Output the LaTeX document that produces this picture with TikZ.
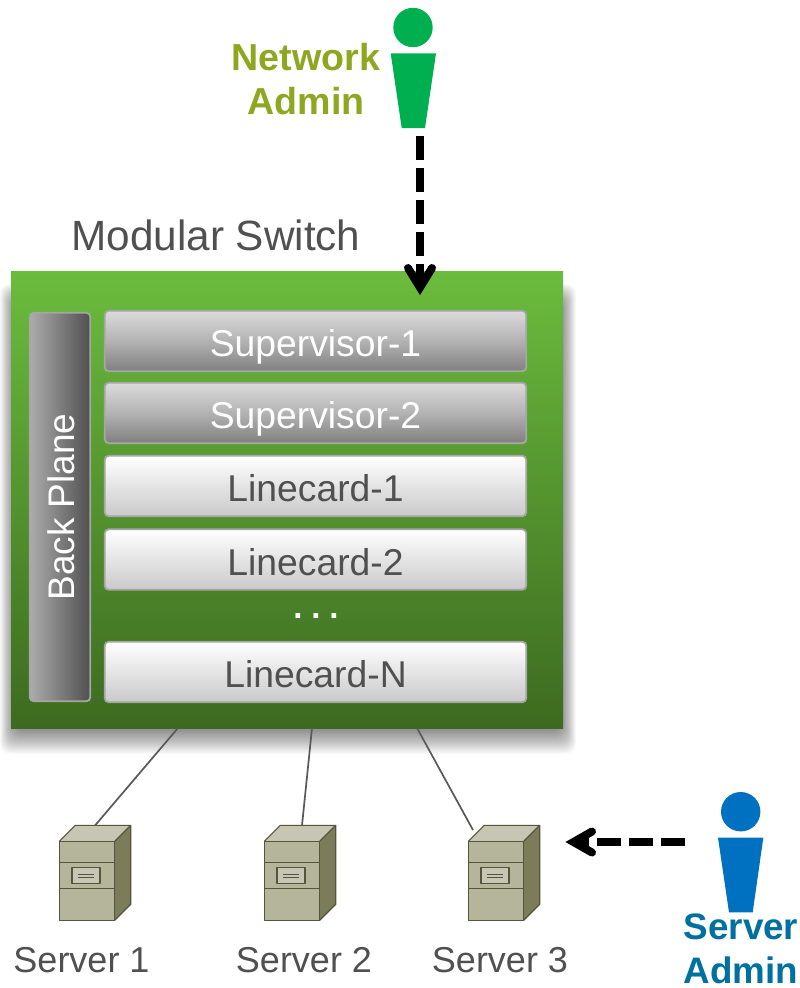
\documentclass[tikz,border=0pt]{standalone}
\usepackage{fontspec}
\setmainfont{Liberation Sans}
\usetikzlibrary{calc}
\definecolor{txtgrey}{HTML}{505050}
\definecolor{cardborder}{HTML}{A6A6A6}
\definecolor{netgreen}{HTML}{00B050}
\definecolor{srvblue}{HTML}{0070C0}
\definecolor{nettext}{HTML}{8EA620}
\definecolor{srvtext}{HTML}{0070A0}
\definecolor{srvfront}{HTML}{B5B59B}
\definecolor{srvtop}{HTML}{C6C6B2}
\definecolor{srvside}{HTML}{7C7C5A}
\definecolor{srvline}{HTML}{55553D}
\definecolor{bpleft}{HTML}{ACACAC}
\definecolor{bpmid}{HTML}{8E8E8E}
\definecolor{bpright}{HTML}{505050}
\tikzset{
  x=1pt,y=-1pt,
  cardbase/.style={draw=cardborder,line width=1.8pt,rounded corners=4pt,inner sep=0pt,
    minimum width=421.5pt,minimum height=60.5pt,font=\fontsize{37.3}{37.3}\selectfont,
    text height=31pt,text depth=0pt},
  supcard/.style={cardbase,top color=black!14,bottom color=black!50,middle color=black!30,text=white},
  linecard/.style={cardbase,top color=white,bottom color=black!21,text=txtgrey},
  backplane/.style={draw=cardborder,line width=1.8pt,rounded corners=4pt,inner sep=0pt,
    minimum width=388.5pt,minimum height=60.5pt,rotate=90,font=\fontsize{37}{37}\selectfont,
    text height=29pt,text depth=0pt,left color=bpleft,middle color=bpmid,right color=bpright,text=white},
  srvlabel/.style={anchor=base,inner sep=0pt,font=\fontsize{36}{36}\selectfont,text=txtgrey},
  adminlabel/.style={anchor=base,inner sep=0pt,text depth=0pt,font=\bfseries\fontsize{37.6}{37.6}\selectfont},
  wire/.style={draw=black!65,line width=1.7pt},
  dashconn/.style={black,line width=8pt,dash pattern=on 24pt off 8pt},
  tiphead/.style={black,line width=8pt,line cap=round,line join=miter,miter limit=10},
  srvedge/.style={draw=srvline,line width=1.1pt,line join=round},
}
\newcommand{\serverbox}[2]{%
  \begin{scope}[shift={(#2,0)}]
    \fill[srvtop] (59.3,841.3) -- (75.3,825.3) -- (130.7,825.3) -- (114.7,841.3) -- cycle;
    \fill[srvside] (114.7,841.3) -- (130.7,825.3) -- (130.7,904.3) -- (114.7,920.3) -- cycle;
    \node[srvedge,fill=srvfront,inner sep=0pt,minimum width=55.4pt,minimum height=79pt] (#1) at (87,880.8) {};
    \draw[srvedge] (59.3,841.3) -- (75.3,825.3) -- (130.7,825.3) -- (114.7,841.3);
    \draw[srvedge] (130.7,825.3) -- (130.7,904.3) -- (114.7,920.3);
    \draw[srvedge] (59.3,862.7) -- (114.7,862.7);
    \draw[srvedge] (59.3,888.3) -- (114.7,888.3);
    \draw[srvedge,fill=srvtop] (72,867.6) rectangle (100,883.4);
    \draw[srvedge] (77.7,874.3) -- (94.3,874.3);
    \draw[srvedge] (77.7,877.7) -- (94.3,877.7);
  \end{scope}}
\begin{document}
\begin{tikzpicture}
\useasboundingbox (0,0) rectangle (800,988);
\fill[white] (0,0) rectangle (800,988);
% soft shadow of the switch
\foreach \g in {0,1,...,27}{
  \fill[black,opacity=0.018,rounded corners=10pt]
    ({0+\g*0.6},{284+\g*0.7}) rectangle ({576-\g*0.6},{754-\g*1.0});
}
% switch
\node[inner sep=0pt,minimum width=552pt,minimum height=457pt,
  top color={rgb,255:red,107;green,188;blue,61},
  middle color={rgb,255:red,88;green,160;blue,48},
  bottom color={rgb,255:red,61;green,106;blue,32}] (sw) at (287,499.5) {};
\node[anchor=base,inner sep=0pt,font=\fontsize{42.3}{42.3}\selectfont,text=txtgrey] (swname) at (216,250) {Modular Switch};
% cards
\node[backplane] (bp) at (60,507) {Back Plane};
\node[supcard] (sup1) at (315.5,341) {Supervisor-1};
\node[supcard] (sup2) at (315.5,413) {Supervisor-2};
\node[linecard] (lc1) at (315.5,486) {Linecard-1};
\node[linecard] (lc2) at (315.5,559.5) {Linecard-2};
\node[anchor=base,inner sep=0pt,text=white,font=\bfseries\fontsize{33}{33}\selectfont] (dots) at (316,618.5) {.\kern8.8pt.\kern8.8pt.};
\node[linecard] (lcn) at (315.5,672) {Linecard-N};
% connector ends on the switch
\coordinate (swa) at (178,728);
\coordinate (swb) at (312,728);
\coordinate (swc) at (417,728);
\coordinate (srva) at (95,825.5);
\coordinate (srvb) at (302,825.5);
\coordinate (srvc) at (473,830);
\draw[wire] (swa) -- (srva);
\draw[wire] (swb) -- (srvb);
\draw[wire] (swc) -- (srvc);
% servers
\serverbox{s1}{0}
\serverbox{s2}{205}
\serverbox{s3}{409}
\node[srvlabel] (l1) at (81.5,972.7) {Server 1};
\node[srvlabel] (l2) at (304,972.7) {Server 2};
\node[srvlabel] (l3) at (500,972.7) {Server 3};
% network admin
\node[circle,fill=netgreen,inner sep=0pt,minimum size=39.4pt] (nethead) at (413,27.5) {};
\fill[netgreen] (390.7,53.3) -- (436,53.3) -- (425,128) -- (401.7,128) -- cycle;
\coordinate (netfoot) at (420,136);
\node[adminlabel,text=nettext] (nl1) at (306,70) {Network};
\node[adminlabel,text=nettext] (nl2) at (306,114) {Admin};
\coordinate (nethv) at (420,287.5);
\draw[dashconn] (netfoot) -- (nethv);
\draw[tiphead] (408,268) -- (nethv) -- (432,268);
% server admin
\node[circle,fill=srvblue,inner sep=0pt,minimum size=39.4pt] (srvhead) at (740.7,811.7) {};
\fill[srvblue] (718,837.7) -- (763.3,837.7) -- (752.7,912.3) -- (729,912.3) -- cycle;
\coordinate (srvhand) at (685,842);
\node[adminlabel,text=srvtext,font=\bfseries\fontsize{36.8}{36.8}\selectfont] (sl1) at (741,939) {Server};
\node[adminlabel,text=srvtext,font=\bfseries\fontsize{36.8}{36.8}\selectfont] (sl2) at (741,983) {Admin};
\coordinate (srvhv) at (573.5,842);
\draw[dashconn] (srvhand) -- (srvhv);
\draw[tiphead] (592,831.5) -- (srvhv) -- (592,852.5);
\end{tikzpicture}
\end{document}
